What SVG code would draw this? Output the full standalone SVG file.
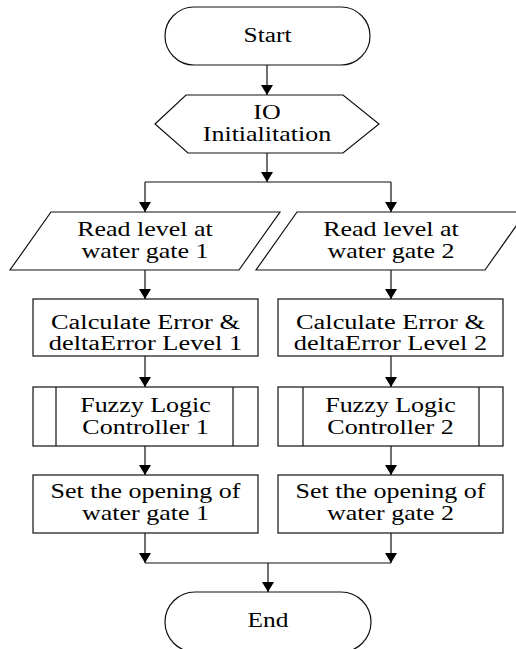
<svg xmlns="http://www.w3.org/2000/svg" width="516" height="649" viewBox="0 0 516 649">
<style>
.s{fill:#fff;stroke:#111;stroke-width:1.2}
.c{fill:none;stroke:#111;stroke-width:1.2}
text{font-family:"Liberation Serif","Times New Roman",serif;font-size:20px;fill:#000;text-anchor:middle}
</style>
<defs>
<marker id="ah" viewBox="0 0 10 12" refX="10" refY="6" markerWidth="10" markerHeight="12" markerUnits="userSpaceOnUse" orient="auto">
<path d="M0,0 L10,6 L0,12 Z" fill="#000"/>
</marker>
</defs>
<rect width="516" height="649" fill="#fff"/>
<g id="connectors">
<line class="c" x1="267" y1="65" x2="267" y2="95" marker-end="url(#ah)"/>
<line class="c" x1="267" y1="153" x2="267" y2="182" marker-end="url(#ah)"/>
<line class="c" x1="145" y1="182" x2="391" y2="182"/>
<line class="c" x1="145" y1="182" x2="145" y2="212" marker-end="url(#ah)"/>
<line class="c" x1="391" y1="182" x2="391" y2="212" marker-end="url(#ah)"/>
<line class="c" x1="145" y1="270" x2="145" y2="299" marker-end="url(#ah)"/>
<line class="c" x1="391" y1="270" x2="391" y2="299" marker-end="url(#ah)"/>
<line class="c" x1="145" y1="356" x2="145" y2="387" marker-end="url(#ah)"/>
<line class="c" x1="391" y1="356" x2="391" y2="387" marker-end="url(#ah)"/>
<line class="c" x1="145" y1="446" x2="145" y2="475" marker-end="url(#ah)"/>
<line class="c" x1="391" y1="446" x2="391" y2="475" marker-end="url(#ah)"/>
<line class="c" x1="145" y1="533" x2="145" y2="563" marker-end="url(#ah)"/>
<line class="c" x1="391" y1="533" x2="391" y2="563" marker-end="url(#ah)"/>
<line class="c" x1="145" y1="563" x2="391" y2="563"/>
<line class="c" x1="268" y1="563" x2="268" y2="592" marker-end="url(#ah)"/>
</g>
<g id="start">
<rect class="s" x="165" y="7" width="205" height="58" rx="29" ry="29"/>
<text transform="translate(267.5,42) scale(1.27,1)">Start</text>
</g>
<g id="io-init">
<polygon class="s" points="155,124 186,95 343,95 379,124 343,153 188,153"/>
<text transform="translate(267,119) scale(1.3,1)">IO</text>
<text transform="translate(267,141) scale(1.3,1)">Initialitation</text>
</g>
<g id="read1">
<polygon class="s" points="51,212 280,212 239,270 10,270"/>
<text transform="translate(145,236) scale(1.3,1)">Read level at</text>
<text transform="translate(145,258) scale(1.3,1)">water gate 1</text>
</g>
<g id="read2">
<polygon class="s" points="297,212 526,212 485,270 256,270"/>
<text transform="translate(391,236) scale(1.3,1)">Read level at</text>
<text transform="translate(391,258) scale(1.3,1)">water gate 2</text>
</g>
<g id="calc1">
<rect class="s" x="33" y="299" width="225" height="57"/>
<text transform="translate(145.5,329) scale(1.32,1)">Calculate Error &amp;</text>
<text transform="translate(145.5,350) scale(1.32,1)">deltaError Level 1</text>
</g>
<g id="calc2">
<rect class="s" x="278" y="299" width="225" height="57"/>
<text transform="translate(390.5,329) scale(1.32,1)">Calculate Error &amp;</text>
<text transform="translate(390.5,350) scale(1.32,1)">deltaError Level 2</text>
</g>
<g id="flc1">
<rect class="s" x="33" y="387" width="225" height="59"/>
<line class="c" x1="56" y1="387" x2="56" y2="446"/>
<line class="c" x1="233" y1="387" x2="233" y2="446"/>
<text transform="translate(145.5,412) scale(1.3,1)">Fuzzy Logic</text>
<text transform="translate(145.5,434) scale(1.3,1)">Controller 1</text>
</g>
<g id="flc2">
<rect class="s" x="278" y="387" width="225" height="59"/>
<line class="c" x1="303" y1="387" x2="303" y2="446"/>
<line class="c" x1="479" y1="387" x2="479" y2="446"/>
<text transform="translate(390.5,412) scale(1.3,1)">Fuzzy Logic</text>
<text transform="translate(390.5,434) scale(1.3,1)">Controller 2</text>
</g>
<g id="set1">
<rect class="s" x="33" y="475" width="225" height="58"/>
<text transform="translate(145.5,498) scale(1.3,1)">Set the opening of</text>
<text transform="translate(145.5,520) scale(1.3,1)">water gate 1</text>
</g>
<g id="set2">
<rect class="s" x="278" y="475" width="225" height="58"/>
<text transform="translate(390.5,498) scale(1.3,1)">Set the opening of</text>
<text transform="translate(390.5,520) scale(1.3,1)">water gate 2</text>
</g>
<g id="end">
<rect class="s" x="165" y="592" width="206" height="60" rx="30" ry="30"/>
<text transform="translate(268,627) scale(1.27,1)">End</text>
</g>
</svg>
